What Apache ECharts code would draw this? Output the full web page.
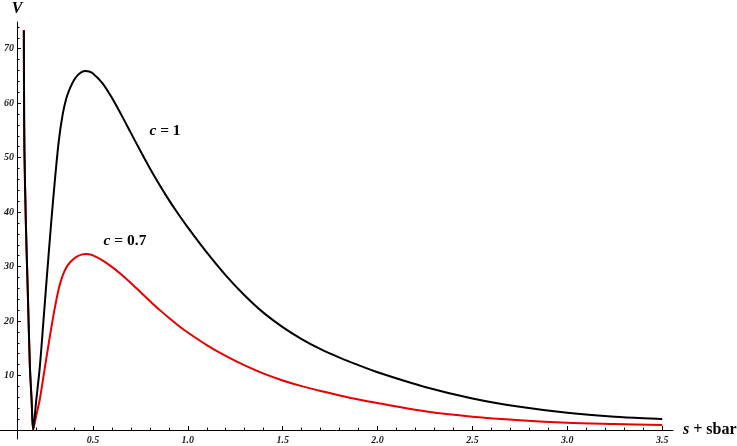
<!DOCTYPE html>
<html><head><meta charset="utf-8">
<script src="https://cdn.jsdelivr.net/npm/echarts@6/dist/echarts.min.js"></script>
<style>html,body{margin:0;padding:0;background:#fff}#c{width:737px;height:446px}</style>
</head><body><div id="c"></div>
<script>
// shared steep left branch (both curves)
const leftX = [0.136, 0.137, 0.139, 0.147, 0.158, 0.168, 0.177, 0.185];
const leftV = [73.4, 62.0, 51.4, 37.6, 23.9, 11.6, 5.5, 0];
// c = 1 (black), right of the minimum
const c1X = [0.20, 0.22, 0.24, 0.26, 0.28, 0.30, 0.32, 0.34, 0.36, 0.38, 0.40, 0.42, 0.44, 0.46, 0.48, 0.50, 0.55, 0.60, 0.65, 0.70, 0.75, 0.80, 0.85, 0.90, 0.95, 1.00, 1.1, 1.2, 1.3, 1.4, 1.5, 1.6, 1.7, 1.8, 1.9, 2.0, 2.25, 2.5, 2.75, 3.0, 3.25, 3.5];
const c1V = [5.0, 11.5, 20.3, 29.3, 38.0, 46.0, 53.0, 57.8, 60.9, 62.8, 64.2, 65.15, 65.7, 65.9, 65.8, 65.45, 63.7, 61.0, 57.85, 54.55, 51.25, 48.05, 45.05, 42.25, 39.65, 37.2, 32.6, 28.4, 24.7, 21.5, 18.9, 16.7, 14.85, 13.3, 11.9, 10.6, 7.9, 5.8, 4.25, 3.15, 2.45, 2.02];
// c = 0.7 (red), right of the minimum
const c07X = [0.20, 0.22, 0.24, 0.26, 0.28, 0.30, 0.32, 0.34, 0.36, 0.38, 0.40, 0.42, 0.44, 0.46, 0.48, 0.50, 0.55, 0.60, 0.65, 0.70, 0.75, 0.80, 0.85, 0.90, 0.95, 1.00, 1.1, 1.2, 1.3, 1.4, 1.5, 1.6, 1.7, 1.8, 1.9, 2.0, 2.25, 2.5, 2.75, 3.0, 3.25, 3.5];
const c07V = [2.45, 5.6, 9.95, 14.35, 18.6, 22.55, 25.95, 28.3, 29.85, 30.8, 31.45, 31.9, 32.2, 32.3, 32.25, 32.05, 31.15, 29.95, 28.55, 27.0, 25.35, 23.7, 22.1, 20.6, 19.2, 17.9, 15.6, 13.6, 11.85, 10.35, 9.1, 8.05, 7.15, 6.35, 5.6, 4.95, 3.45, 2.45, 1.8, 1.35, 1.12, 0.92];
// ticks
const xTickLabels = [0.5, 1.0, 1.5, 2.0, 2.5, 3.0, 3.5];
const xMinorTicks = [0.2,0.3,0.4,0.6,0.7,0.8,0.9,1.1,1.2,1.3,1.4,1.6,1.7,1.8,1.9,2.1,2.2,2.3,2.4,2.6,2.7,2.8,2.9,3.1,3.2,3.3,3.4];
const yTickLabels = [10, 20, 30, 40, 50, 60, 70];
const yMinorTicks = [2,4,6,8,12,14,16,18,22,24,26,28,32,34,36,38,42,44,46,48,52,54,56,58,62,64,66,68,72,74];

const pairs = (xs, vs) => xs.map((x, i) => [x, vs[i]]);
const leftPairs = pairs(leftX, leftV);
const blackData = leftPairs.concat(pairs(c1X, c1V));
const redData = leftPairs.concat(pairs(c07X, c07V));

const X_MIN = 0.0104, X_MAX = 3.557, Y_MIN = -1.65, Y_MAX = 74.9;
const serif = 'Liberation Serif, Times New Roman, serif';
const tickFont = {fontFamily: serif, fontStyle: 'italic', fontWeight: 'bold', fontSize: 10, color: '#1a1a1a'};
const richLbl = {
  i: {fontFamily: serif, fontStyle: 'italic', fontWeight: 'bold', fontSize: 15.5, color: '#000'},
  n: {fontFamily: serif, fontWeight: 'bold', fontSize: 15.5, color: '#000'}
};

const chart = echarts.init(document.getElementById('c'), null, {renderer: 'canvas'});
chart.setOption({
  animation: false,
  backgroundColor: '#fff',
  grid: {left: 0, right: 64, top: 22, bottom: 7, containLabel: false, outerBoundsMode: 'none'},
  xAxis: [{
    type: 'value', min: X_MIN, max: X_MAX,
    axisLine: {show: true, onZero: true, onZeroAxisIndex: 0, lineStyle: {color: '#000', width: 1}},
    axisTick: {show: true, inside: true, length: 4, customValues: xTickLabels, lineStyle: {color: '#000'}},
    axisLabel: {show: true, customValues: xTickLabels, margin: -4, formatter: v => v.toFixed(1), ...tickFont},
    splitLine: {show: false},
    name: '{i|s}{n| + sbar}', nameLocation: 'end', nameGap: 10,
    nameTextStyle: {rich: {
      i: {fontFamily: serif, fontStyle: 'italic', fontWeight: 'bold', fontSize: 16, color: '#000'},
      n: {fontFamily: serif, fontWeight: 'bold', fontSize: 16, color: '#000'}
    }}
  }, {
    type: 'value', min: X_MIN, max: X_MAX, position: 'bottom',
    axisLine: {show: false, onZero: true, onZeroAxisIndex: 0},
    axisTick: {show: true, inside: true, length: 2.5, customValues: xMinorTicks, lineStyle: {color: '#000'}},
    axisLabel: {show: false},
    splitLine: {show: false}
  }],
  yAxis: [{
    type: 'value', min: Y_MIN, max: Y_MAX, offset: -17,
    axisLine: {show: true, onZero: false, lineStyle: {color: '#000', width: 1}},
    axisTick: {show: true, inside: true, length: 4, customValues: yTickLabels, lineStyle: {color: '#000'}},
    axisLabel: {show: true, customValues: yTickLabels, margin: 3, ...tickFont},
    splitLine: {show: false},
    name: 'V', nameLocation: 'end', nameGap: 5,
    nameTextStyle: {fontFamily: serif, fontStyle: 'italic', fontWeight: 'bold', fontSize: 16, color: '#000'}
  }, {
    type: 'value', min: Y_MIN, max: Y_MAX, offset: -17, position: 'left',
    axisLine: {show: false, onZero: false},
    axisTick: {show: true, inside: true, length: 2.5, customValues: yMinorTicks, lineStyle: {color: '#000'}},
    axisLabel: {show: false},
    splitLine: {show: false}
  }],
  series: [{
    name: 'c = 0.7', type: 'line', data: redData, xAxisIndex: 0, yAxisIndex: 0,
    showSymbol: false, smooth: 0.3, z: 2, clip: true,
    lineStyle: {color: '#e60000', width: 2},
    markPoint: {
      symbol: 'circle', symbolSize: 1, itemStyle: {color: 'rgba(0,0,0,0)'},
      label: {show: true, position: 'inside', formatter: '{i|c}{n| = 0.7}', rich: richLbl},
      data: [{coord: [0.669, 34.7]}]
    }
  }, {
    name: 'c = 1', type: 'line', data: blackData, xAxisIndex: 0, yAxisIndex: 0,
    showSymbol: false, smooth: 0.3, z: 3, clip: true,
    lineStyle: {color: '#000', width: 2},
    markPoint: {
      symbol: 'circle', symbolSize: 1, itemStyle: {color: 'rgba(0,0,0,0)'},
      label: {show: true, position: 'inside', formatter: '{i|c}{n| = 1}', rich: richLbl},
      data: [{coord: [0.880, 54.9]}]
    }
  }]
});
</script>
</body></html>
